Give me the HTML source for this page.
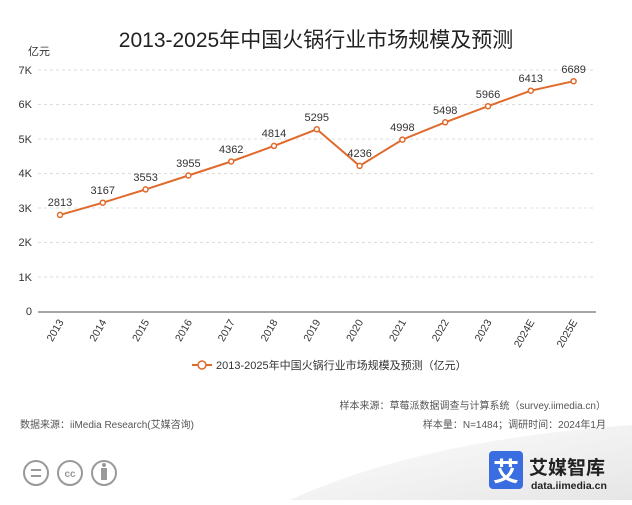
<!DOCTYPE html>
<html><head><meta charset="utf-8"><style>
body{margin:0;width:632px;height:500px;background:#fff;overflow:hidden;font-family:"Liberation Sans","Noto Sans CJK SC",sans-serif;}
</style></head><body>
<svg width="632" height="500" xmlns="http://www.w3.org/2000/svg" font-family="'Liberation Sans','Noto Sans CJK SC',sans-serif">
<defs><linearGradient id="g" x1="0" y1="0" x2="1" y2="1"><stop offset="0" stop-color="#fff"/><stop offset="1" stop-color="#e6e6e6"/></linearGradient></defs>
<path d="M290 500 Q420 440 632 425 L632 500 Z" fill="url(#g)"/>
<text x="316" y="47" font-size="21" text-anchor="middle" fill="#222">2013-2025年中国火锅行业市场规模及预测</text>
<text x="28" y="55" font-size="11" fill="#333">亿元</text>
<g stroke="#ddd" stroke-dasharray="3,3" stroke-width="1">
<line x1="38" x2="596" y1="70" y2="70"/><line x1="38" x2="596" y1="104.5" y2="104.5"/><line x1="38" x2="596" y1="139" y2="139"/><line x1="38" x2="596" y1="173.5" y2="173.5"/><line x1="38" x2="596" y1="208" y2="208"/><line x1="38" x2="596" y1="242.5" y2="242.5"/><line x1="38" x2="596" y1="277" y2="277"/>
</g>
<line x1="38" x2="596" y1="312" y2="312" stroke="#888" stroke-width="1.5"/>
<g font-size="11" fill="#333" text-anchor="end">
<text x="32" y="74">7K</text><text x="32" y="108">6K</text><text x="32" y="143">5K</text><text x="32" y="177">4K</text><text x="32" y="212">3K</text><text x="32" y="246">2K</text><text x="32" y="281">1K</text><text x="32" y="315">0</text>
</g>
<g font-size="10.5" fill="#333" text-anchor="end">
<text transform="translate(64,322) rotate(-60)">2013</text>
<text transform="translate(106.8,322) rotate(-60)">2014</text>
<text transform="translate(149.6,322) rotate(-60)">2015</text>
<text transform="translate(192.4,322) rotate(-60)">2016</text>
<text transform="translate(235.2,322) rotate(-60)">2017</text>
<text transform="translate(278,322) rotate(-60)">2018</text>
<text transform="translate(320.8,322) rotate(-60)">2019</text>
<text transform="translate(363.6,322) rotate(-60)">2020</text>
<text transform="translate(406.4,322) rotate(-60)">2021</text>
<text transform="translate(449.2,322) rotate(-60)">2022</text>
<text transform="translate(492,322) rotate(-60)">2023</text>
<text transform="translate(534.8,322) rotate(-60)">2024E</text>
<text transform="translate(577.6,322) rotate(-60)">2025E</text>
</g>
<polyline fill="none" stroke="#e06a2c" stroke-width="2" points="60,214.9 102.8,202.7 145.6,189.4 188.4,175.5 231.2,161.5 274,145.9 316.8,129.3 359.6,165.9 402.4,139.6 445.2,122.3 488,106.2 530.8,90.7 573.6,81.2"/>
<g fill="#fff" stroke="#e06a2c" stroke-width="1.5">
<circle cx="60" cy="214.9" r="2.5"/><circle cx="102.8" cy="202.7" r="2.5"/><circle cx="145.6" cy="189.4" r="2.5"/><circle cx="188.4" cy="175.5" r="2.5"/><circle cx="231.2" cy="161.5" r="2.5"/><circle cx="274" cy="145.9" r="2.5"/><circle cx="316.8" cy="129.3" r="2.5"/><circle cx="359.6" cy="165.9" r="2.5"/><circle cx="402.4" cy="139.6" r="2.5"/><circle cx="445.2" cy="122.3" r="2.5"/><circle cx="488" cy="106.2" r="2.5"/><circle cx="530.8" cy="90.7" r="2.5"/><circle cx="573.6" cy="81.2" r="2.5"/>
</g>
<g font-size="11" fill="#333" text-anchor="middle">
<text x="60" y="206">2813</text><text x="102.8" y="194">3167</text><text x="145.6" y="181">3553</text><text x="188.4" y="167">3955</text><text x="231.2" y="153">4362</text><text x="274" y="137">4814</text><text x="316.8" y="121">5295</text><text x="359.6" y="157">4236</text><text x="402.4" y="131">4998</text><text x="445.2" y="114">5498</text><text x="488" y="98">5966</text><text x="530.8" y="82">6413</text><text x="573.6" y="73">6689</text>
</g>
<line x1="192" x2="212" y1="365" y2="365" stroke="#e06a2c" stroke-width="2"/>
<circle cx="202" cy="365" r="4" fill="#fff" stroke="#e06a2c" stroke-width="1.5"/>
<text x="216" y="369" font-size="11" fill="#333">2013-2025年中国火锅行业市场规模及预测（亿元）</text>
<text x="606" y="409" font-size="10" fill="#555" text-anchor="end">样本来源：草莓派数据调查与计算系统（survey.iimedia.cn）</text>
<text x="606" y="428" font-size="10" fill="#555" text-anchor="end">样本量：N=1484；调研时间：2024年1月</text>
<text x="20" y="428" font-size="10" fill="#555">数据来源：iiMedia Research(艾媒咨询)</text>
<g fill="none" stroke="#999" stroke-width="2">
<circle cx="36" cy="473" r="12"/><circle cx="70" cy="473" r="12"/><circle cx="104" cy="473" r="12"/>
</g>
<line x1="31" x2="41" y1="470" y2="470" stroke="#999" stroke-width="2"/><line x1="31" x2="41" y1="476" y2="476" stroke="#999" stroke-width="2"/>
<text x="70" y="477" font-size="10" fill="#999" text-anchor="middle" font-weight="bold">cc</text>
<circle cx="104" cy="465" r="2" fill="#999"/><rect x="101" y="468" width="6" height="12" fill="#999"/>
<rect x="489" y="451" width="34" height="38" rx="4" fill="#3a6de0"/>
<text x="506" y="481" font-size="26" fill="#fff" text-anchor="middle" font-weight="bold">艾</text>
<text x="529" y="474" font-size="19" fill="#222" font-weight="bold">艾媒智库</text>
<text x="531" y="489" font-size="10.5" fill="#222" font-weight="bold">data.iimedia.cn</text>
</svg>
</body></html>
